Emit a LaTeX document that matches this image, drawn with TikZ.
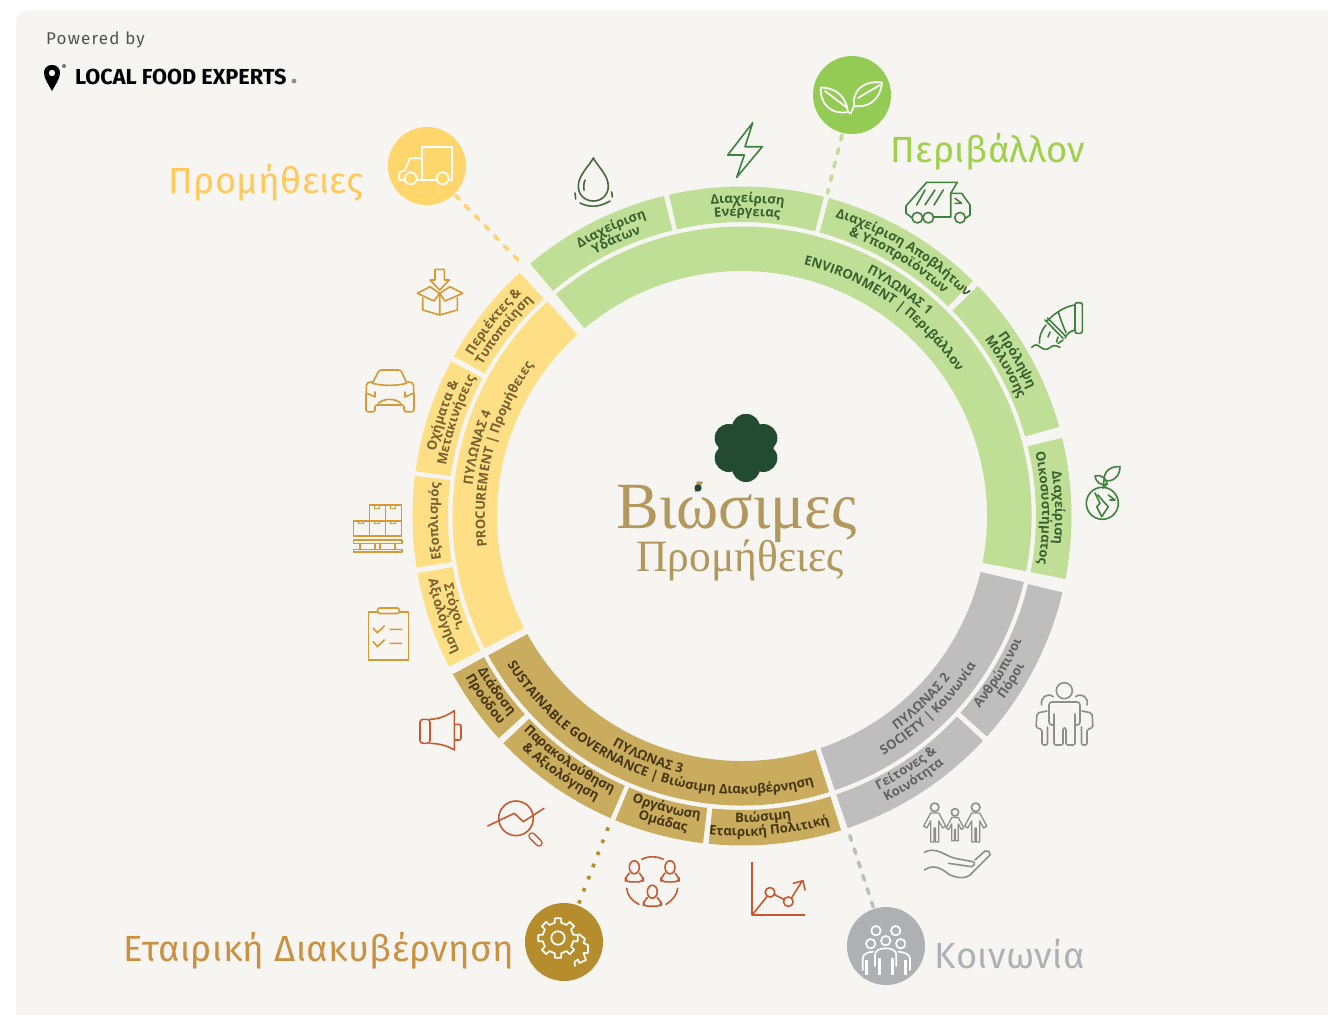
\documentclass[tikz,border=0pt]{standalone}
\usepackage{fontspec}
\usepackage{xcolor}
\usepackage{tikz}
\usetikzlibrary{decorations.text,calc}
\setmainfont{Fira Sans}
\newfontfamily\ringfont{Open Sans}
\newfontfamily\hubfont[LetterSpace=1.2]{Fira Sans}
\newfontfamily\poweredfont[LetterSpace=7]{Fira Sans}
\newfontfamily\logofont[FakeStretch=0.97]{Liberation Serif}
\definecolor{panelbg}{RGB}{247,245,242}
\definecolor{ringgreen}{RGB}{191,222,150}
\definecolor{ringyellow}{RGB}{255,223,133}
\definecolor{ringgold}{RGB}{201,172,94}
\definecolor{ringgrey}{RGB}{190,190,190}
\definecolor{inkgreen}{RGB}{58,96,48}
\definecolor{inkyellow}{RGB}{118,96,48}
\definecolor{inkgold}{RGB}{70,54,22}
\definecolor{inkgrey}{RGB}{98,98,98}
\definecolor{hubgreen}{RGB}{148,203,84}
\definecolor{hubyellow}{RGB}{255,214,107}
\definecolor{hubgold}{RGB}{182,141,44}
\definecolor{hubgrey}{RGB}{174,177,179}
\definecolor{iconleaf}{RGB}{63,130,62}
\definecolor{icondrop}{RGB}{72,105,62}
\definecolor{iconbox}{RGB}{214,154,50}
\definecolor{iconred}{RGB}{197,90,48}
\definecolor{icongrey}{RGB}{142,142,142}
\definecolor{logogold}{RGB}{178,152,92}
\definecolor{logoleaf}{RGB}{34,75,50}
% text on the ring: radius, middle angle, colour, text
\newcommand{\arctextcw}[4]{\path[decorate,decoration={text along path,text align=center,text format delimiters={[}{]},text={[\ringfont\bfseries\fontsize{13.1}{14}\selectfont\color{#3}]#4}}]
    (#2+70:#1) arc[start angle=#2+70,end angle=#2-70,radius=#1];}
\newcommand{\arctextccw}[4]{\path[decorate,decoration={text along path,text align=center,text format delimiters={[}{]},text={[\ringfont\bfseries\fontsize{13.1}{14}\selectfont\color{#3}]#4}}]
    (#2-70:#1) arc[start angle=#2-70,end angle=#2+70,radius=#1];}
\tikzset{
    hub/.style={circle,minimum size=78pt,inner sep=0pt,fill=#1},
    hublabel/.style={inner sep=0pt,font=\hubfont\fontsize{36.4}{40}\selectfont,text=#1},
    leader/.style={line width=3.6pt,line cap=round,dash pattern=on 5pt off 9pt,shorten >=2pt,shorten <=2pt,#1},
    icon/.style={line width=1.6pt,line join=round,line cap=round,#1},
    hubicon/.style={line width=1.7pt,line join=round,line cap=round,white},
    familyfig/.pic={
        \draw (-4,0) -- (-11,13) -- (-8,15) -- (-4,8) -- (-4,29) -- (-0.7,29) -- (-0.7,15) -- (0.7,15) -- (0.7,29) -- (4,29) -- (4,8) -- (8,15) -- (11,13) -- (4,0) -- cycle;
    },
    teamfig/.pic={
        \draw (0,0) ellipse (5 and 6.5);
        \draw[rounded corners=4pt] (-5,6) -- (-9,10) -- (-9,14.5) -- (9,14.5) -- (9,10) -- (5,6);
    }
}
\begin{document}
\begin{tikzpicture}[x=1pt,y=-1pt]
    \useasboundingbox (0,0) rectangle (1328,1015);
    % Panel
    \fill[white] (0,0) rectangle (1328,1015);
    \fill[panelbg] (16,1015) [rounded corners=10pt] -- (16,11) [sharp corners] -- (1328,11) -- (1328,1015) -- cycle;

    % Powered by
    \node[anchor=west,inner sep=0pt,text=black!68,font=\poweredfont\fontsize{17}{19}\selectfont] (powered) at (46,39.5) {Powered by};
    \node[anchor=west,inner sep=0pt,font=\fontsize{21.7}{23}\selectfont\bfseries] (brand) at (75,77) {LOCAL FOOD EXPERTS};
    \fill[black] (44,73) .. controls (44,68) and (47,65) .. (52,65) .. controls (57,65) and (60,68) .. (60,73) .. controls (60,79) and (55,85) .. (52,91) .. controls (49,85) and (44,79) .. (44,73) -- cycle;
    \fill[panelbg] (52,73) circle (3.2);
    \fill[black!55] (64,66) circle (2);
    \fill[black!45] (294,81) circle (2.4);

    % Ring
    \begin{scope}[shift={(742,516)},y=1pt]
        % Pillars
        \foreach \a/\b/\c in {130/-11/ringgreen,-13.2/-71.3/ringgrey,287.5/208.8/ringgold,207.2/132.2/ringyellow} {
            \fill[\c] (\a:245) arc[start angle=\a,end angle=\b,radius=245] -- (\b:289.5) arc[start angle=\b,end angle=\a,radius=289.5] -- cycle;
        }
        % Segments
        \foreach \a/\b/\c in {130/103.7/ringgreen,102.8/75.6/ringgreen,74.7/45.5/ringgreen,44.3/15.7/ringgreen,13.7/-11/ringgreen,
            -13.4/-42/ringgrey,-43/-71.3/ringgrey,
            287.5/264.2/ringgold,263.2/247.4/ringgold,246.5/223.6/ringgold,222.4/208.7/ringgold,
            207.2/190/ringyellow,189/173/ringyellow,172.2/152/ringyellow,151/132.4/ringyellow} {
            \fill[\c] (\a:294) arc[start angle=\a,end angle=\b,radius=294] -- (\b:329.5) arc[start angle=\b,end angle=\a,radius=329.5] -- cycle;
        }

        % Environment
        \arctextcw{273}{55}{inkgreen}{ΠΥΛΩΝΑΣ 1}
        \arctextcw{259}{55}{inkgreen}{ENVIRONMENT | Περιβάλλον}
        \arctextcw{313}{114.5}{inkgreen}{Διαχείριση}
        \arctextcw{300}{114.5}{inkgreen}{Υδάτων}
        \arctextcw{313}{89}{inkgreen}{Διαχείριση}
        \arctextcw{300}{89}{inkgreen}{Ενέργειας}
        \arctextcw{313}{58.5}{inkgreen}{Διαχείριση Αποβλήτων}
        \arctextcw{300}{58.5}{inkgreen}{{\&} Υποπροϊόντων}
        \arctextcw{313}{29.5}{inkgreen}{Πρόληψη}
        \arctextcw{300}{29.5}{inkgreen}{Μόλυνσης}
        \arctextcw{313}{1.5}{inkgreen}{Διαχείριση}
        \arctextcw{300}{1.5}{inkgreen}{Οικοσυστήματος}

        % Society
        \arctextccw{264}{-46}{inkgrey}{ΠΥΛΩΝΑΣ 2}
        \arctextccw{278}{-46}{inkgrey}{SOCIETY | Κοινωνία}
        \arctextccw{306}{-57}{inkgrey}{Γείτονες {\&}}
        \arctextccw{320}{-57}{inkgrey}{Κοινότητα}
        \arctextccw{306}{-31.5}{inkgrey}{Ανθρώπινοι}
        \arctextccw{320}{-31.5}{inkgrey}{Πόροι}

        % Governance
        \arctextccw{264}{248.7}{inkgold}{ΠΥΛΩΝΑΣ 3}
        \arctextccw{278}{248.7}{inkgold}{SUSTAINABLE GOVERNANCE | Βιώσιμη Διακυβέρνηση}
        \arctextccw{306}{215.5}{inkgold}{Διάδοση}
        \arctextccw{320}{215.5}{inkgold}{Προόδου}
        \arctextccw{306}{234.7}{inkgold}{Παρακολούθηση}
        \arctextccw{320}{234.7}{inkgold}{{\&} Αξιολόγηση}
        \arctextccw{306}{255.5}{inkgold}{Οργάνωση}
        \arctextccw{320}{255.5}{inkgold}{Ομάδας}
        \arctextccw{306}{274}{inkgold}{Βιώσιμη}
        \arctextccw{320}{275}{inkgold}{Εταιρική Πολιτική}

        % Procurement
        \arctextcw{271}{165.5}{inkyellow}{ΠΥΛΩΝΑΣ 4}
        \arctextcw{257}{165.5}{inkyellow}{PROCUREMENT | Προμήθειες}
        \arctextcw{313}{142}{inkyellow}{Περιέκτες {\&}}
        \arctextcw{300}{142}{inkyellow}{Τυποποίηση}
        \arctextcw{313}{161.5}{inkyellow}{Οχήματα {\&}}
        \arctextcw{300}{161.5}{inkyellow}{Μετακινήσεις}
        \arctextcw{304}{181}{inkyellow}{Εξοπλισμός}
        \arctextccw{306}{197.5}{inkyellow}{Στόχοι,}
        \arctextccw{320}{198.5}{inkyellow}{Αξιολόγηση}
    \end{scope}

    % Hubs and leaders
    \node[hub=hubgreen] (envhub) at (852,95) {};
    \node[hub=hubyellow] (prochub) at (427,166) {};
    \node[hub=hubgold] (govhub) at (564,942) {};
    \node[hub=hubgrey] (sochub) at (886,946) {};
    \coordinate (envtip) at (827,195);
    \coordinate (proctip) at (520,262);
    \coordinate (govtip) at (611,820);
    \coordinate (soctip) at (848,830);
    \draw[leader=ringgreen] (envhub) -- (envtip);
    \draw[leader=ringyellow!85!orange] (prochub) -- (proctip);
    \draw[leader=ringgrey] (sochub) -- (soctip);
    \draw[leader=hubgold,line cap=butt,dash pattern=on 3.6pt off 9.4pt] (govhub) -- (govtip);
    \node[hublabel=hubgreen!90!yellow] (envlabel) at (988,151.5) {Περιβάλλον};
    \node[hublabel=hubyellow!85!orange] (proclabel) at (266,182.5) {Προμήθειες};
    \node[hublabel=logogold!70!orange] (govlabel) at (319,950.5) {Εταιρική Διακυβέρνηση};
    \node[hublabel=hubgrey] (soclabel) at (1010,954) {Κοινωνία};

    % Hub icons
    \draw[hubicon] (820.7,87.5) .. controls (838,88) and (846,98) .. (848,112) .. controls (832,115) and (820,105) .. cycle;
    \draw[hubicon] (882,82.5) .. controls (862,80) and (852,92) .. (854,106) .. controls (866,108) and (880,102) .. cycle;
    \draw[hubicon] (825,91) -- (846,107) (880,85) -- (858,98) (848,112) -- (850.7,113.5) -- (854,106);
    \draw[hubicon] (421.7,180) -- (421.7,146.7) -- (451.7,146.7) -- (451.7,180) -- (449,180) (436.7,180) -- (417,180);
    \draw[hubicon] (421.7,158.3) -- (410,158.3) -- (405,170) -- (399.3,172.7) -- (399.3,180) -- (405,180);
    \draw[hubicon] (410.7,178.3) circle (6) (442.7,178.3) circle (6);
    \begin{scope}[shift={(558,938)},y=1pt]
        \draw[hubicon] (0,0) circle (6.7);
        \foreach \a in {0,45,...,315} {
            \draw[hubicon] (\a-22.5:15.5) -- (\a-12:15.5) -- (\a-9:20) -- (\a+9:20) -- (\a+12:15.5) -- (\a+22.5:15.5);
        }
    \end{scope}
    \draw[hubicon] (579,934) -- (585,939) -- (583.5,943) -- (588,945) -- (588,953) -- (583.5,953) -- (586,960) -- (579.5,963) -- (578,959.5) -- (574.5,962) -- (575,966);
    \draw[hubicon] (876,930.7) circle (4.7) (895.7,930.7) circle (4.7) (870.7,943.7) circle (4.7) (885.7,940.7) circle (4.7) (900.7,943.7) circle (4.7);
    \draw[hubicon] (875,966) -- (875,955) .. controls (875,950) and (880,948.3) .. (885.7,948.3) .. controls (891,948.3) and (896.3,950) .. (896.3,955) -- (896.3,966);
    \draw[hubicon] (862.7,970) -- (862.7,958.3) .. controls (862.7,954) and (868,952) .. (873,951.7) (910,970) -- (910,958.3) .. controls (910,954) and (903,952) .. (898.3,951.7);
    \draw[white,line width=2.8pt] (866.7,960) -- (866.7,975) (879.3,958) -- (879.3,975) (892.7,958) -- (892.7,975) (905.3,960) -- (905.3,975);

    % Centre logo
    \foreach \a in {90,150,...,450} {
        \fill[logoleaf] (746,448) ++({20*cos(\a)},{-20*sin(\a)}) circle (14);
    }
    \fill[logoleaf] (746,448) circle (22);
    \node[inner sep=0pt,text=logogold,font=\logofont\fontsize{66}{70}\selectfont] (logotop) at (737,512) {Βιώσιμες};
    \node[inner sep=0pt,text=logogold,font=\logofont\fontsize{44.8}{48}\selectfont] (logobottom) at (740,560) {Προμήθειες};
    \fill[logoleaf] (698,488) circle (3.6);

    % Environment icons
    \draw[icon=icondrop] (593.3,158) .. controls (590,165) and (578.3,175) .. (578.3,186) .. controls (578.3,195) and (585,201) .. (593.3,201) .. controls (601.6,201) and (608.3,195) .. (608.3,186) .. controls (608.3,175) and (596.6,165) .. cycle;
    \draw[icon=icondrop] (585,180) .. controls (583.5,184) and (583.5,187) .. (584,190) (580,203) .. controls (590,208) and (600,207) .. (610,201) (575,193) -- (575.7,199) (611.7,192) -- (612.3,197);
    \draw[icon=iconleaf] (752.7,122.7) -- (727.7,155) -- (744.3,155) -- (736.7,177.3) -- (762.3,146.7) -- (745,146.7) -- cycle;
    \draw[icon=iconleaf] (912,217.7) -- (906,213.3) -- (906,206) -- (926.7,182.3) -- (957.3,182.3) -- (950.7,193.3) -- (950.7,217) -- (933.7,217);
    \draw[icon=iconleaf] (950.7,193.3) -- (961.7,193.3) -- (970,205) -- (970,215) -- (966,218) (955,198.3) -- (961.7,203.3) -- (955,203.3);
    \draw[icon=iconleaf] (917.3,217.7) circle (5.3) (928.3,217.7) circle (5.3) (960,217.7) circle (5.3);
    \draw[icon=iconleaf] (925,190) -- (916.7,205) (935,190) -- (925,205) (943.3,190) -- (934,205);
    \draw[icon=iconleaf,rounded corners=2pt] (1075,302.7) rectangle (1082.3,333.3);
    \draw[icon=iconleaf] (1075,305) .. controls (1066,306) and (1056,312) .. (1047,321) (1075,330) .. controls (1071,331) and (1067,333) .. (1065,338) (1058.3,311.7) .. controls (1060,318) and (1063,326) .. (1066,332.5);
    \draw[icon=iconleaf] (1045,320) -- (1063,338.3) (1047.5,318) -- (1065.5,336);
    \draw[icon=iconleaf] (1046,325) .. controls (1041,331) and (1039,337) .. (1039.5,343) (1063,340) -- (1058,343.5) (1050,332) -- (1048,337) (1058,337) -- (1056.5,342);
    \draw[icon=iconleaf] (1031.7,347.5) .. controls (1035,344) and (1037,344) .. (1041,347.5) .. controls (1044,350) and (1047,350) .. (1050,347.5) .. controls (1053,345) and (1056,345) .. (1060,347.5);
    \draw[icon=iconleaf] (1102.3,503.3) circle (16);
    \draw[icon=iconleaf] (1104,480) .. controls (1104,470) and (1112,466) .. (1120,466.7) .. controls (1120,477) and (1112,483) .. cycle;
    \draw[icon=iconleaf] (1095,476) .. controls (1103,474) and (1107,480) .. (1107,484) .. controls (1100,486) and (1096,482) .. cycle;
    \draw[icon=iconleaf] (1107,484) -- (1103,488) (1104,480) -- (1103,488);
    \draw[icon=iconleaf] (1095,493) -- (1100,503.3) -- (1096.7,506.7) -- (1101.7,516.7) -- (1108.3,506.7) -- (1105,503.3) -- (1098,495) (1108.3,495) -- (1115,500) -- (1110,500);

    % Procurement icons
    \draw[icon=iconbox] (435,269.3) -- (444.3,269.3) -- (444.3,280) -- (449.3,280) -- (439.7,290) -- (430,280) -- (435,280) -- cycle;
    \draw[icon=iconbox] (422.7,298) -- (422.7,310) -- (439.7,315) -- (457.3,310) -- (457.3,298) (439.7,293.3) -- (439.7,315);
    \draw[icon=iconbox] (430,286.7) -- (417.3,293.3) -- (434,301) -- (439.7,293.3) -- (445,301) -- (462.7,293.3) -- (450,286.7) (430,286.7) -- (439.7,293.3) -- (450,286.7);
    \draw[icon=iconbox] (372.3,383.3) -- (378.3,372) .. controls (379,370.5) and (380,370) .. (382,370) -- (398,370) .. controls (400,370) and (401,370.5) .. (401.7,372) -- (406.7,383.3);
    \draw[icon=iconbox] (372.3,383.3) .. controls (383,386) and (396,386) .. (406.7,383.3);
    \draw[icon=iconbox,rounded corners=2pt] (372,381.7) -- (366,383.3) -- (366.7,388.3) -- (366,393.3) -- (366,411.7) -- (375,411.7) -- (375,405) -- (404,405) -- (404,411.7) -- (414,411.7) -- (414,393.3) -- (413.3,388.3) -- (414,383.3) -- (407.7,381.7);
    \draw[icon=iconbox] (367,393.3) -- (375,397) -- (375,392) (413,393.3) -- (405,397) -- (405,392) (378.3,403.3) .. controls (384,398) and (395,398) .. (400.7,403.3);
    \draw[icon=iconbox] (369.3,505) rectangle (385.3,520.7) (385.3,505) rectangle (401.3,520.7) (353.3,520.7) rectangle (369.3,536) (369.3,520.7) rectangle (385.3,536) (385.3,520.7) rectangle (401.3,536);
    \foreach \x/\y in {377.3/505,393.3/505,361.3/520.7,377.3/520.7,393.3/520.7} {
        \draw[iconbox,line width=1pt] (\x-2.5,\y) rectangle (\x+2.5,\y+3);
    }
    \draw[icon=iconbox] (353.3,540) rectangle (401.7,543.3) (353.3,549.3) rectangle (401.7,552);
    \draw[icon=iconbox] (360,543.3) -- (360,549.3) (375,543.3) -- (375,549.3) (380,543.3) -- (380,549.3) (395,543.3) -- (395,549.3);
    \draw[icon=iconbox] (377.7,611.7) -- (368.3,611.7) -- (368.3,660) -- (408.3,660) -- (408.3,611.7) -- (399.3,611.7);
    \draw[icon=iconbox,rounded corners=2pt] (377.7,613.5) -- (377.7,608) -- (399.3,608) -- (399.3,613.5) -- cycle;
    \draw[icon=iconbox] (373.3,628.3) -- (377.3,632.7) -- (384.3,626) (373.3,641.7) -- (377.3,646.7) -- (384.3,640) (390,629.3) -- (401.7,629.3) (390,643.3) -- (401.7,643.3);

    % Governance icons
    \draw[icon=iconred,rounded corners=3pt] (430,719.3) -- (420,719.3) -- (420,743.3) -- (430,743.3) -- cycle;
    \draw[icon=iconred] (430,719.3) .. controls (440,719) and (448,715) .. (454.3,710.7) -- (454.3,750) .. controls (448,746) and (440,743.5) .. (430,743.3);
    \draw[icon=iconred,rounded corners=2pt] (455,724.3) -- (461,724.3) -- (461,740) -- (455,740);
    \draw[icon=iconred] (516,818.3) circle (17.3) (487.7,826) -- (514.3,813.3) -- (523.3,821.7) -- (544,808.3);
    \draw[iconred,line width=7.5pt,line cap=round] (532,836) -- (539,843);
    \draw[panelbg,line width=4.5pt,line cap=round] (532,836) -- (539,843);
    \pic[icon=iconred] at (634.3,867.3) {teamfig};
    \pic[icon=iconred] at (670,867.3) {teamfig};
    \pic[icon=iconred] at (652.3,891.7) {teamfig};
    \draw[icon=iconred] (641.7,859.3) .. controls (648,856) and (657,856) .. (663.3,859.3) (626.7,888.3) .. controls (627,895) and (632,901) .. (639,904.3) (677.7,888.3) .. controls (677,895) and (672,901) .. (666,904.3);
    \draw[icon=iconred,line width=2pt,line cap=butt] (752,862.3) -- (752,915) -- (805,915);
    \draw[icon=iconred] (753,914) -- (767,896.5) (774.3,894.5) -- (784,899.5) (791.5,898) -- (801.7,881.7) (793.3,883.3) -- (803,880.7) -- (805,890);
    \draw[icon=iconred] (770,892.3) circle (4.8) (788.3,901.7) circle (4.8);

    % Society icons
    \draw[icon=icongrey] (1064.3,690.7) circle (8);
    \draw[icon=icongrey,rounded corners=2pt] (1054,714) -- (1054,745) -- (1063,745) -- (1063,728) -- (1066,728) -- (1066,745) -- (1075,745) -- (1075,714);
    \draw[icon=icongrey,rounded corners=3pt] (1054,725) -- (1049,725) -- (1049,702) -- (1080,702) -- (1080,725) -- (1075,725);
    \draw[icon=icongrey] (1041.7,705) .. controls (1040,698) and (1047,692) .. (1053.3,696.7) (1087,705) .. controls (1089,698) and (1082,692) .. (1075.5,696.7);
    \draw[icon=icongrey,rounded corners=2pt] (1047,711) -- (1037,713) -- (1036,728) -- (1042,729) -- (1042,745) -- (1047.5,745) -- (1047.5,727);
    \draw[icon=icongrey,rounded corners=2pt] (1082,711) -- (1092,713) -- (1093,728) -- (1087,729) -- (1087,745) -- (1081.5,745) -- (1081.5,727);
    \draw[icon=icongrey] (934.7,807.3) circle (4.3) (955,812.3) circle (3.7) (975.7,807.3) circle (4.3);
    \pic[icon=icongrey,line width=1.3pt] at (934.7,813) {familyfig};
    \pic[icon=icongrey,line width=1.3pt,scale=0.8] at (955,817.5) {familyfig};
    \pic[icon=icongrey,line width=1.3pt] at (975.7,813) {familyfig};
    \draw[icon=icongrey] (924.3,852.3) .. controls (936,846) and (945,856) .. (955,858.3) -- (973,861.7) .. controls (976,863) and (974,866) .. (971.7,866.7) -- (948.3,863.3);
    \draw[icon=icongrey] (924.3,870) .. controls (936,862) and (945,872) .. (950,875) .. controls (960,879) and (966,878) .. (970,875) -- (990,855) .. controls (990,851) and (987,850) .. (985,851) -- (975,860);
\end{tikzpicture}
\end{document}
